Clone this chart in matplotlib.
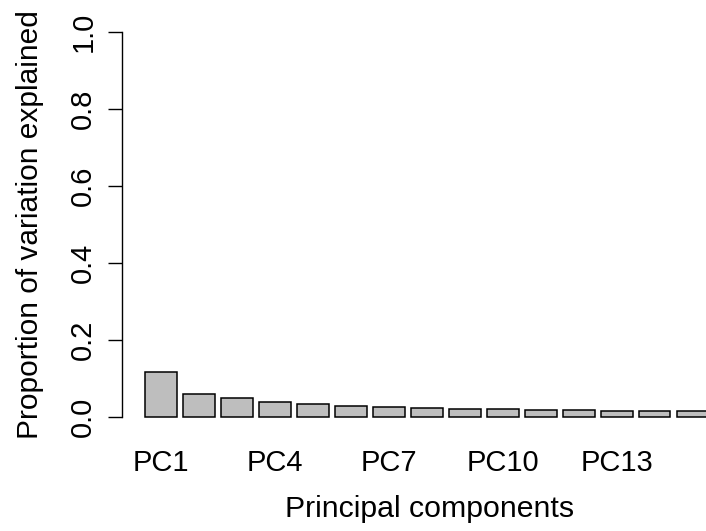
import matplotlib
matplotlib.use("Agg")
import matplotlib.pyplot as plt

plt.rcParams['font.family'] = ['Liberation Sans', 'DejaVu Sans']

components = [f"PC{i}" for i in range(1, 16)]
variance_explained = [0.117, 0.060, 0.048, 0.039, 0.034, 0.029, 0.025, 0.0225,
                      0.021, 0.020, 0.018, 0.0173, 0.0165, 0.0156, 0.0148]
shown_labels = ["PC1", "PC4", "PC7", "PC10", "PC13"]

W, H = 706, 531
fig = plt.figure(figsize=(W / 100, H / 100), dpi=100)
left_px, right_px = 122.3, 737.6
bottom_px, top_px = 432.4, 16.3
ax = fig.add_axes([left_px / W, (H - bottom_px) / H,
                   (right_px - left_px) / W, (bottom_px - top_px) / H])

xs = [0.7 + 1.2 * i for i in range(len(components))]
ax.bar(xs, variance_explained, width=1.0, color="#BEBEBE",
       edgecolor="black", linewidth=1.1)

ax.set_xlim(-0.52, 18.92)
ax.set_ylim(-0.04, 1.04)

for s in ["top", "right", "bottom"]:
    ax.spines[s].set_visible(False)
ax.spines["left"].set_bounds(0, 1)
ax.spines["left"].set_linewidth(1.0)

ax.set_yticks([0.0, 0.2, 0.4, 0.6, 0.8, 1.0])
ax.set_yticklabels(["0.0", "0.2", "0.4", "0.6", "0.8", "1.0"],
                   rotation=90, va="center", fontsize=21)
ax.tick_params(axis="y", length=10, width=1.0, pad=8)

tick_pos = [xs[components.index(l)] for l in shown_labels]
ax.set_xticks(tick_pos)
ax.set_xticklabels(shown_labels, fontsize=21)
ax.tick_params(axis="x", length=0, pad=12)

ax.set_xlabel("Principal components", fontsize=21.8, labelpad=13)
ax.set_ylabel("Proportion of variation explained", fontsize=21.5, labelpad=18)

fig.savefig("out.png", dpi=100)
